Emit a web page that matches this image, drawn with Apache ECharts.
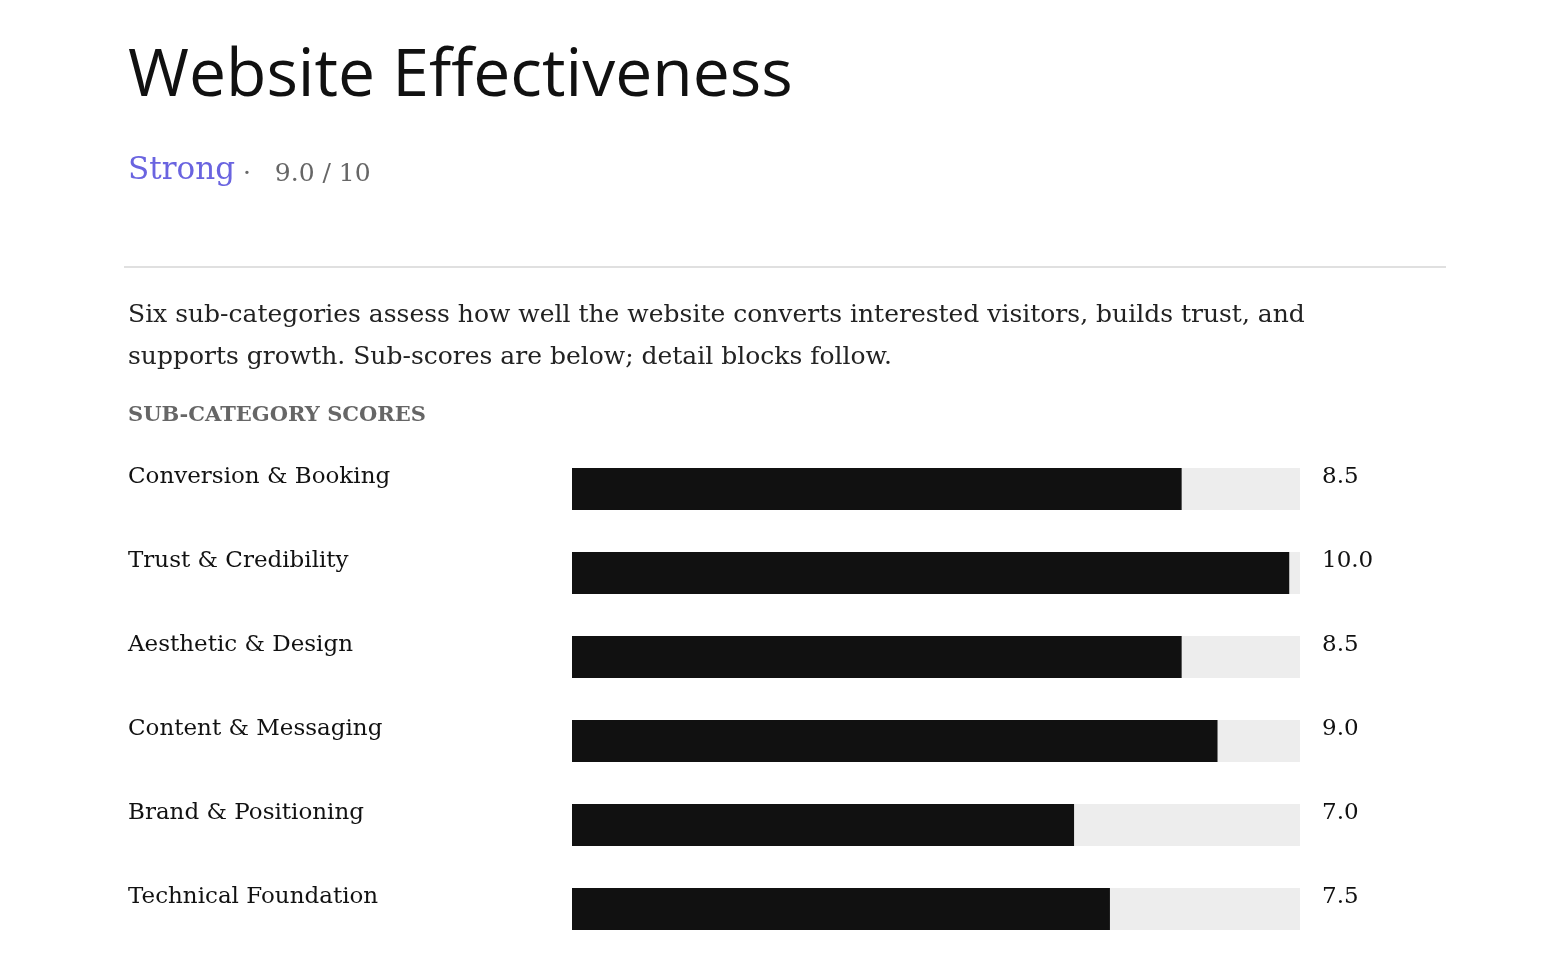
<!DOCTYPE html>
<html><head><meta charset="utf-8">
<script src="https://cdn.jsdelivr.net/npm/echarts@6/dist/echarts.min.js"></script>
<style>html,body{margin:0;background:#fff}#c{width:1562px;height:966px}</style>
</head><body><div id="c"></div>
<script>
const categories = ["Conversion & Booking","Trust & Credibility","Aesthetic & Design","Content & Messaging","Brand & Positioning","Technical Foundation"];
const scores = [8.5, 10.0, 8.5, 9.0, 7.0, 7.5];
const scoreLabels = ["8.5","10.0","8.5","9.0","7.0","7.5"];
const serif = "'DejaVu Serif', serif";
const chart = echarts.init(document.getElementById('c'));
chart.setOption({
  animation:false,
  grid:{left:572,right:262,top:447,bottom:15},
  xAxis:{type:'value',min:0,max:10.15,show:false},
  yAxis:[
    {type:'category',data:categories,inverse:true,axisLine:{show:false},axisTick:{show:false},
     axisLabel:{align:'left',verticalAlign:'bottom',margin:444,fontFamily:serif,fontSize:23,color:'#111'}},
    {type:'category',data:scoreLabels,inverse:true,position:'right',axisLine:{show:false},axisTick:{show:false},
     axisLabel:{align:'left',verticalAlign:'bottom',margin:22,fontFamily:serif,fontSize:23,color:'#111'}}
  ],
  series:[{type:'bar',data:scores,barWidth:42,itemStyle:{color:'#111'},
    showBackground:true,backgroundStyle:{color:'#ededed'}}],
  graphic:[
    {type:'text',left:128,top:44,style:{text:'Website Effectiveness',font:"66px 'Open Sans', sans-serif",fill:'#111'}},
    {type:'text',left:128,top:155,style:{text:'Strong',font:"31px "+serif,fill:'#6a64e0'}},
    {type:'text',left:243,top:162,style:{text:'·   9.0 / 10',font:"25px "+serif,fill:'#666'}},
    {type:'rect',shape:{x:124,y:266,width:1322,height:2},style:{fill:'#e0e0e0'}},
    {type:'text',left:128,top:294,style:{text:'Six sub-categories assess how well the website converts interested visitors, builds trust, and\nsupports growth. Sub-scores are below; detail blocks follow.',font:"25px "+serif,fill:'#222',lineHeight:42}},
    {type:'text',left:128,top:405,style:{text:'SUB-CATEGORY SCORES',font:"bold 21px "+serif,fill:'#666'}}
  ]
});
</script></body></html>
